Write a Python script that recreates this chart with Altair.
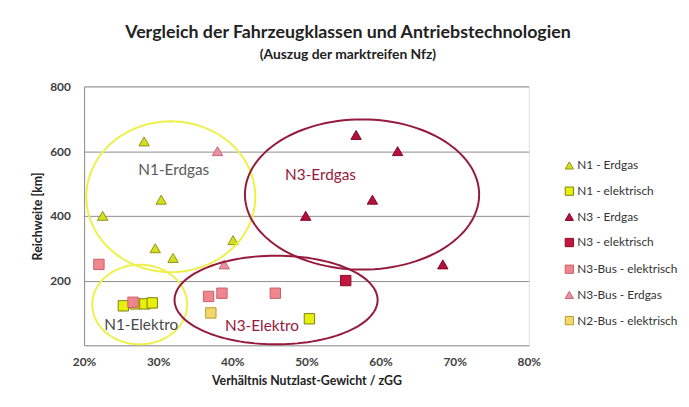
import altair as alt
import numpy as np
import pandas as pd

# ---------------- data ----------------
series = ["N1 - Erdgas", "N1 - elektrisch", "N3 - Erdgas", "N3 - elektrisch",
          "N3-Bus - elektrisch", "N3-Bus - Erdgas", "N2-Bus - elektrisch"]

n1_erdgas_x = [28.1, 30.4, 22.5, 29.6, 32.0, 40.1]
n1_erdgas_y = [630, 450, 400, 300, 270, 325]

n1_elek_x = [25.3, 26.9, 28.2, 29.2, 50.4]
n1_elek_y = [122, 128, 128, 131, 82]

n3_erdgas_x = [56.7, 62.3, 58.9, 49.9, 68.4]
n3_erdgas_y = [650, 600, 450, 400, 250]

n3_elek_x = [55.3]
n3_elek_y = [200]

n3bus_elek_x = [22.0, 26.6, 36.8, 38.6, 45.8]
n3bus_elek_y = [250, 133, 151, 161, 161]

n3bus_erdgas_x = [38.0, 38.9]
n3bus_erdgas_y = [600, 250]

n2bus_elek_x = [37.1]
n2bus_elek_y = [100]

# annotation ellipses (data units)
ell_names = ["N1-Erdgas", "N1-Elektro", "N3-Erdgas", "N3-Elektro"]
ell_cx = [31.7, 27.5, 57.5, 45.9]
ell_cy = [459, 126, 466, 140]
ell_rx = [11.4, 6.4, 15.8, 13.7]
ell_ry = [233, 123, 232, 137]
ell_label_x = [32.1, 27.7, 51.9, 44.0]
ell_label_y = [540, 64, 527, 61]

# ---------------- styles ----------------
fills = ["#d5df1c", "#e8ef0c", "#b3103d", "#c5163f", "#f0868d", "#e9929e", "#f3d66c"]
strokes = ["#8f9416", "#7c8010", "#7d0a2a", "#8a0c2b", "#c9606b", "#c46878", "#b89a30"]
shapes = ["triangle-up", "square", "triangle-up", "square", "square", "triangle-up", "square"]
ell_colors = ["#eef04a", "#eef04a", "#961a3c", "#961a3c"]
label_colors = ["#5a5a5a", "#4a4a4a", "#961a3c", "#961a3c"]

xs = [n1_erdgas_x, n1_elek_x, n3_erdgas_x, n3_elek_x, n3bus_elek_x, n3bus_erdgas_x, n2bus_elek_x]
ys = [n1_erdgas_y, n1_elek_y, n3_erdgas_y, n3_elek_y, n3bus_elek_y, n3bus_erdgas_y, n2bus_elek_y]
rows = []
for s, xl, yl in zip(series, xs, ys):
    for a, b in zip(xl, yl):
        rows.append({"series": s, "x": a, "y": b})
df = pd.DataFrame(rows)

t = np.linspace(0, 2 * np.pi, 121)
erows = []
for n, cx, cy, rx, ry, c in zip(ell_names, ell_cx, ell_cy, ell_rx, ell_ry, ell_colors):
    for i, a in enumerate(t):
        erows.append({"name": n, "i": i, "x": cx + rx * np.cos(a), "y": cy + ry * np.sin(a), "col": c})
edf = pd.DataFrame(erows)

ldf = pd.DataFrame({"name": ell_names, "x": ell_label_x, "y": ell_label_y, "col": label_colors})

FONT = "Lato"

xscale = alt.Scale(domain=[20, 80], nice=False)
yscale = alt.Scale(domain=[0, 800], nice=False)

xenc = alt.X("x:Q", scale=xscale,
             axis=alt.Axis(title="Verhältnis Nutzlast-Gewicht / zGG", values=[20, 30, 40, 50, 60, 70, 80],
                           labelExpr="datum.value + '%'", grid=False, ticks=False, labelFlush=False,
                           domainColor="#8c8c8c", labelPadding=11, titlePadding=8,
                           labelFont=FONT, labelFontSize=12, labelFontWeight="bold", labelColor="#404040",
                           titleFont=FONT, titleFontSize=12.5, titleFontWeight="bold", titleColor="#222"))
yenc = alt.Y("y:Q", scale=yscale,
             axis=alt.Axis(title="Reichweite [km]", values=[200, 400, 600, 800], grid=True,
                           gridColor="#8c8c8c", gridWidth=1, ticks=False, domainColor="#8c8c8c",
                           labelPadding=14, titlePadding=5,
                           labelFont=FONT, labelFontSize=12, labelFontWeight="bold", labelColor="#404040",
                           titleFont=FONT, titleFontSize=12.5, titleFontWeight="bold", titleColor="#222"))

ellipses = alt.Chart(edf).mark_line(strokeWidth=2).encode(
    x=alt.X("x:Q", scale=xscale),
    y=alt.Y("y:Q", scale=yscale),
    detail="name:N",
    order="i:Q",
    stroke=alt.Stroke("col:N", scale=None),
)

labels = alt.Chart(ldf).mark_text(font=FONT, fontSize=15.5).encode(
    x=alt.X("x:Q", scale=xscale),
    y=alt.Y("y:Q", scale=yscale),
    text="name:N",
    color=alt.Color("col:N", scale=None),
)

legend = alt.Legend(title=None, orient="none", legendX=485, legendY=74, symbolSize=70,
                    labelFont=FONT, labelFontSize=12, labelColor="#333", rowPadding=13,
                    labelOffset=2, symbolStrokeWidth=1)

points = alt.Chart(df).mark_point(filled=True, opacity=1, strokeWidth=1, size=110).encode(
    x=xenc,
    y=yenc,
    fill=alt.Fill("series:N", scale=alt.Scale(domain=series, range=fills), legend=legend),
    stroke=alt.Stroke("series:N", scale=alt.Scale(domain=series, range=strokes), legend=legend),
    shape=alt.Shape("series:N", scale=alt.Scale(domain=series, range=shapes), legend=legend),
)

chart = alt.layer(points, ellipses, labels).properties(
    width=450, height=262,
    padding={"left": 77, "top": 77, "right": 154, "bottom": 52},
    autosize=alt.AutoSizeParams(type="none"),
    title=alt.TitleParams(text="Vergleich der Fahrzeugklassen und Antriebstechnologien",
                          subtitle="(Auszug der marktreifen Nfz)",
                          font=FONT, fontSize=18, fontWeight="bold", color="#222",
                          subtitleFont=FONT, subtitleFontSize=14, subtitleFontWeight="bold",
                          subtitleColor="#222", subtitlePadding=6, anchor="middle", dx=42, offset=19),
).configure_view(stroke=None).configure(background="white")

chart.save("out.html", embed_options={"renderer": "svg", "actions": False})
